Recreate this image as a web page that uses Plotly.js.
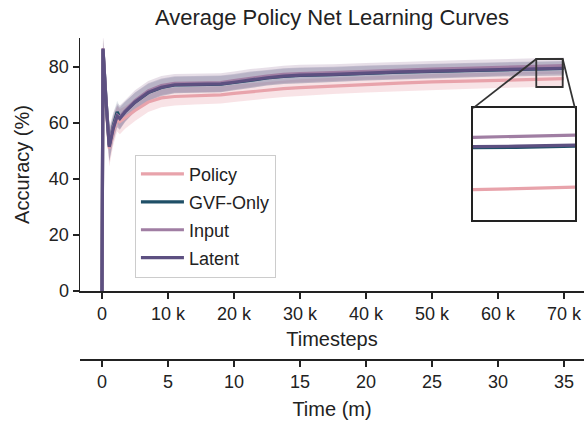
<!DOCTYPE html>
<html>
<head>
<meta charset="utf-8">
<script src="https://cdn.plot.ly/plotly-3.0.1.min.js"></script>
<style>html,body{margin:0;padding:0;background:#fff;}#chart{width:584px;height:421px;}</style>
</head>
<body>
<div id="chart"></div>
<script>
// ---- data ----
const steps   = [0,150,600,1100,1700,2300,2700,3500,5000,7000,9000,11000,14000,18000,20000,22500,25000,27500,30000,35000,40000,45000,50000,55000,60000,65000,67500,70000];
const policy  = [0,86.0,67.0,51.0,57.0,61.5,60.5,62.0,64.5,67.5,69.0,69.5,69.8,70.1,70.6,71.2,71.8,72.3,72.7,73.3,73.8,74.3,74.7,75.0,75.3,75.6,75.75,75.85];
const gvfOnly = [0,86.3,68.5,52.0,59.0,64.0,62.0,64.2,67.5,70.9,72.7,73.6,73.7,73.9,74.5,75.4,76.1,76.7,77.0,77.3,77.8,78.2,78.5,78.8,79.1,79.35,79.4,79.5];
const input   = [0,86.8,68.5,52.5,58.5,62.8,62.0,64.4,68.0,71.5,73.4,74.2,74.3,74.5,75.2,76.1,76.8,77.4,77.7,78.0,78.5,78.9,79.3,79.6,79.9,80.25,80.4,80.5];
const latent  = [0,86.5,68.0,51.5,58.0,62.5,61.6,64.0,67.5,71.0,72.8,73.7,73.8,74.0,74.6,75.5,76.2,76.8,77.1,77.4,77.9,78.3,78.6,78.9,79.2,79.45,79.5,79.6];
const sdPolicy  = [0,4.5,6.5,6.5,5.0,4.5,4.5,4.0,3.8,3.5,3.3,3.2,3.2,3.1,3.1,3.0,3.0,3.0,3.0,2.9,2.9,2.9,2.8,2.8,2.8,2.8,2.8,2.8];
const sdGvf     = [0,4.0,6.0,5.5,4.5,4.0,4.0,3.5,3.3,3.1,3.0,2.9,2.9,2.9,2.8,2.8,2.7,2.7,2.7,2.6,2.6,2.6,2.5,2.5,2.5,2.5,2.5,2.5];
const sdInput   = [0,4.5,6.3,6.0,5.0,4.3,4.3,3.9,3.7,3.5,3.4,3.3,3.3,3.3,3.2,3.2,3.1,3.1,3.1,3.0,3.0,3.0,2.9,2.9,2.9,2.9,2.9,2.9];
const sdLatent  = [0,4.0,6.0,5.5,4.5,4.0,4.0,3.6,3.4,3.2,3.1,3.0,3.0,3.0,2.9,2.9,2.8,2.8,2.8,2.7,2.7,2.7,2.6,2.6,2.6,2.6,2.6,2.6];
const seriesNames = ["Policy","GVF-Only","Input","Latent"];
const xTickVals = [0,10000,20000,30000,40000,50000,60000,70000];
const xTickText = ["0","10 k","20 k","30 k","40 k","50 k","60 k","70 k"];
const yTickVals = [0,20,40,60,80];
const timeTickVals = [0,5,10,15,20,25,30,35];
const stepsPerMinute = 2000;
const zoomBox = {x0: 65800, x1: 69800, y0: 72.9, y1: 82.9};

// ---- styling ----
const colors = ["#e8a3ab","#1f4f67","#a07ea3","#5d5081"];
const bandColors = ["rgba(232,163,171,0.30)","rgba(31,79,103,0.12)","rgba(160,126,163,0.25)","rgba(93,80,129,0.22)"];
const means = [policy,gvfOnly,input,latent];
const sds = [sdPolicy,sdGvf,sdInput,sdLatent];

const xRange = [-3333, 73030];
const yRange = [0, 90.4];
const yDom = [0.3217, 1];
const x3Dom = [0.780, 0.982];
const y3Dom = [0.512, 0.812];

const traces = [];
for (let i = 0; i < 4; i++) {
  const lo = means[i].map((v,k) => v - sds[i][k]);
  const hi = means[i].map((v,k) => v + sds[i][k]);
  traces.push({x: steps, y: lo, type:'scatter', mode:'lines', line:{width:0, color:bandColors[i]}, showlegend:false, hoverinfo:'skip'});
  traces.push({x: steps, y: hi, type:'scatter', mode:'lines', line:{width:0, color:bandColors[i]}, fill:'tonexty', fillcolor:bandColors[i], showlegend:false, hoverinfo:'skip'});
}
for (let i = 0; i < 4; i++) {
  traces.push({x: steps, y: means[i], type:'scatter', mode:'lines', name: seriesNames[i], legendgroup: 'g'+i,
    line:{width:3.2, color:colors[i]}});
}
for (let i = 0; i < 4; i++) {
  traces.push({x: steps, y: means[i], type:'scatter', mode:'lines', xaxis:'x3', yaxis:'y3', showlegend:false,
    line:{width:3.2, color:colors[i]}, hoverinfo:'skip'});
}
traces.push({x: [], y: [], xaxis:'x2', yaxis:'y', type:'scatter', mode:'lines', showlegend:false, hoverinfo:'skip'});

function xp(v){ return (v - xRange[0])/(xRange[1]-xRange[0]); }
function yp(v){ return yDom[0] + (v - yRange[0])/(yRange[1]-yRange[0])*(yDom[1]-yDom[0]); }

const axisColor = '#222';
const fam = 'Liberation Sans, Arial, sans-serif';
const fnt = {family:fam, size:18, color:'#222'};
const titleFnt = {family:fam, size:20, color:'#222'};

const layout = {
  width: 584, height: 421,
  margin: {l:80, r:0, t:38, b:10, pad:0},
  paper_bgcolor:'#fff', plot_bgcolor:'#fff',
  font: fnt,
  title: {text:'Average Policy Net Learning Curves', x:0.5, xref:'paper', y:1-17/421, yref:'container', yanchor:'middle', font:{family:fam, size:22, color:'#222'}},
  showlegend: true,
  legend: {x:0.109, y:0.687, xanchor:'left', yanchor:'top', bgcolor:'rgba(255,255,255,0.8)', bordercolor:'#cccccc', borderwidth:1,
    font:{family:fam, size:18, color:'#222'}, tracegroupgap:1.5, itemwidth:43},
  xaxis: {domain:[0,1], range:xRange, anchor:'y', showgrid:false, zeroline:false, showline:true, linecolor:axisColor, linewidth:1.5,
    ticks:'outside', ticklen:6, tickwidth:1.5, tickcolor:axisColor, tickvals:xTickVals, ticktext:xTickText,
    title:{text:'Timesteps', standoff:9, font:titleFnt}, tickfont:fnt},
  xaxis2: {overlaying:'x', anchor:'free', position:0.1394, side:'bottom', range:[xRange[0]/stepsPerMinute, xRange[1]/stepsPerMinute],
    showgrid:false, zeroline:false, showline:true, linecolor:axisColor, linewidth:1.5,
    ticks:'outside', ticklen:6, tickwidth:1.5, tickcolor:axisColor, tickvals:timeTickVals,
    title:{text:'Time (m)', standoff:11, font:titleFnt}, tickfont:fnt},
  yaxis: {domain:yDom, range:yRange, showgrid:false, zeroline:false, showline:true, linecolor:axisColor, linewidth:1.5,
    ticks:'outside', ticklen:6, tickwidth:1.5, tickcolor:axisColor, tickvals:yTickVals,
    title:{text:'Accuracy (%)', standoff:14, font:titleFnt}, tickfont:fnt},
  xaxis3: {domain:x3Dom, anchor:'y3', range:[zoomBox.x0, zoomBox.x1], showgrid:false, zeroline:false, showticklabels:false, ticks:'',
    showline:true, mirror:true, linecolor:axisColor, linewidth:1.8},
  yaxis3: {domain:y3Dom, anchor:'x3', range:[zoomBox.y0, zoomBox.y1], showgrid:false, zeroline:false, showticklabels:false, ticks:'',
    showline:true, mirror:true, linecolor:axisColor, linewidth:1.8},
  shapes: [
    {type:'rect', xref:'x', yref:'y', x0:zoomBox.x0, x1:zoomBox.x1, y0:zoomBox.y0, y1:zoomBox.y1, line:{color:'#333', width:1.8}, layer:'above'},
    {type:'line', xref:'paper', yref:'paper', x0:xp(zoomBox.x0), y0:yp(zoomBox.y1), x1:x3Dom[0], y1:y3Dom[1], line:{color:'#333', width:1.8}},
    {type:'line', xref:'paper', yref:'paper', x0:xp(zoomBox.x1), y0:yp(zoomBox.y1), x1:x3Dom[1], y1:y3Dom[1], line:{color:'#333', width:1.8}}
  ]
};

Plotly.newPlot('chart', traces, layout, {staticPlot:true, displayModeBar:false});
</script>
</body>
</html>
